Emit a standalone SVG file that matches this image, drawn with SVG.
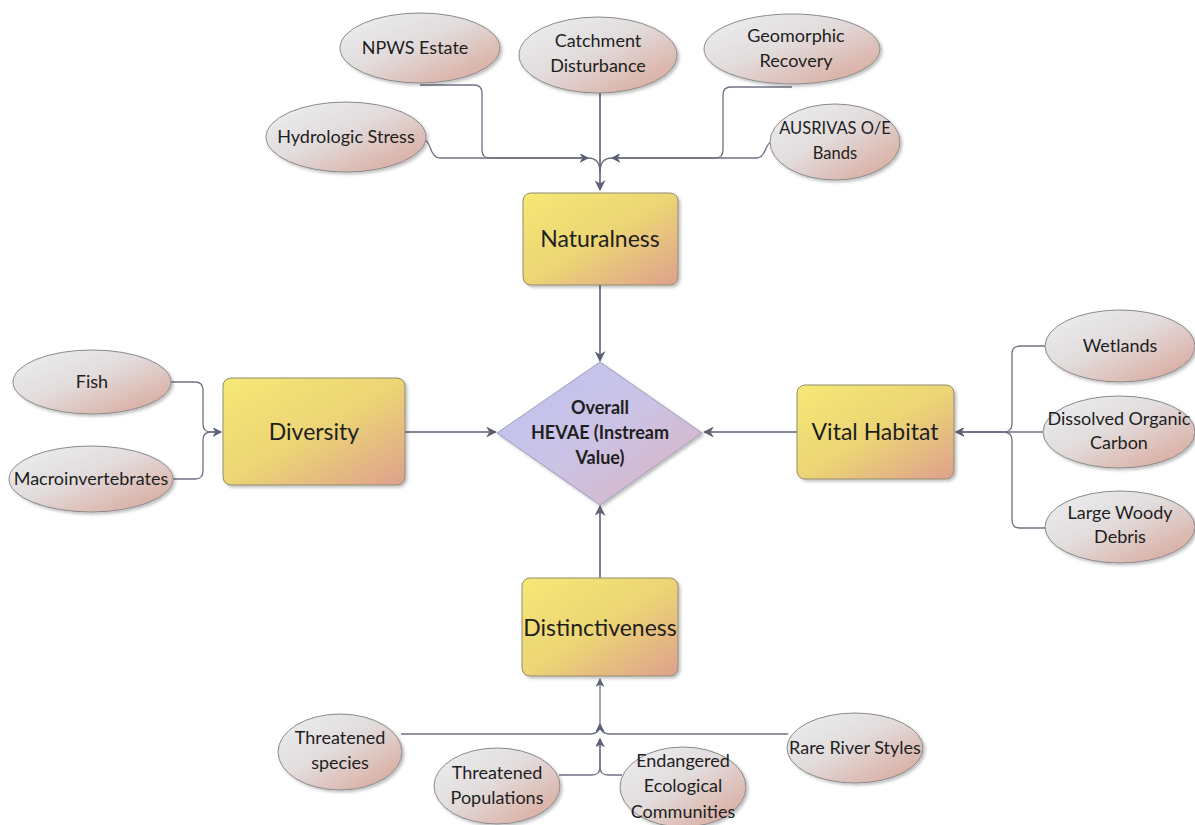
<svg xmlns="http://www.w3.org/2000/svg" width="1195" height="825" viewBox="0 0 1195 825">
  <defs>
    <linearGradient id="ellGrad" x1="0" y1="0" x2="1" y2="1">
      <stop offset="0" stop-color="#eceff2"/>
      <stop offset="0.45" stop-color="#e2dcdc"/>
      <stop offset="1" stop-color="#d8a294"/>
    </linearGradient>
    <linearGradient id="boxGrad" x1="0" y1="0" x2="1" y2="1">
      <stop offset="0" stop-color="#f6e876"/>
      <stop offset="0.5" stop-color="#ecd574"/>
      <stop offset="1" stop-color="#dea08e"/>
    </linearGradient>
    <linearGradient id="diaGrad" x1="0" y1="0" x2="1" y2="1">
      <stop offset="0" stop-color="#bfc3f2"/>
      <stop offset="0.5" stop-color="#cbc3e6"/>
      <stop offset="1" stop-color="#dcb2bd"/>
    </linearGradient>
    <filter id="shadow" x="-10%" y="-10%" width="125%" height="130%">
      <feDropShadow dx="2" dy="2" stdDeviation="1.5" flood-color="#000" flood-opacity="0.25"/>
    </filter>
    <marker id="arrow" viewBox="0 0 10 10" refX="9" refY="5" markerWidth="9" markerHeight="9" markerUnits="userSpaceOnUse" orient="auto">
      <path d="M0,0 L10,5 L0,10 L3,5 Z" fill="#5c6175"/>
    </marker>
    <marker id="arrowL" viewBox="0 0 10 10" refX="9" refY="5" markerWidth="11" markerHeight="11" markerUnits="userSpaceOnUse" orient="auto">
      <path d="M0,0 L10,5 L0,10 L3,5 Z" fill="#5c6175"/>
    </marker>
  </defs>
  <style>
    .ell { fill: url(#ellGrad); stroke: #8a8a8a; stroke-width: 1; filter: url(#shadow); }
    .box { fill: url(#boxGrad); stroke: #8f8d6e; stroke-width: 1; filter: url(#shadow); }
    .dia { fill: url(#diaGrad); stroke: #9c9cbc; stroke-width: 1; filter: url(#shadow); }
    .t { font-family: Lato, "Liberation Sans", sans-serif; font-size: 18px; fill: #1e1e1e; text-anchor: middle; }
    .ts { font-size: 16.5px; }
    .tb { font-family: Lato, "Liberation Sans", sans-serif; font-size: 23px; fill: #1e1e1e; text-anchor: middle; }
    .td { font-family: Lato, "Liberation Sans", sans-serif; font-size: 18px; font-weight: bold; fill: #1e1e1e; text-anchor: middle; }
    .c { fill: none; stroke: #6e7284; stroke-width: 1.3; }
    .cm { fill: none; stroke: #5c6175; stroke-width: 1.6; }
  </style>

  <g id="connectors">
    <path class="c" d="M425,140 C431,142 430,158 440,158 L588,158" marker-end="url(#arrow)"/>
    <path class="c" d="M420,85 L474,85 Q482,85 482,93 L482,150 Q482,158 490,158 L588,158" marker-end="url(#arrow)"/>
    <path class="c" d="M792,87 L731,87 Q723,87 723,95 L723,150 Q723,158 715,158 L612,158" marker-end="url(#arrow)"/>
    <path class="c" d="M771,142 C765,144 766,158 756,158 L612,158" marker-end="url(#arrow)"/>
    <path class="c" d="M588,158 Q600,158 600,172"/>
    <path class="c" d="M612,158 Q600,158 600,172"/>
    <path class="cm" d="M600,93 L600,190" marker-end="url(#arrowL)"/>
    <path class="cm" d="M600,285 L600,361" marker-end="url(#arrowL)"/>
    <path class="c" d="M171,382 L195,382 Q203,382 203,390 L203,424 Q203,432 211,432 L221,432" marker-end="url(#arrow)"/>
    <path class="c" d="M173,479 L195,479 Q203,479 203,471 L203,440 Q203,432 211,432 L221,432" marker-end="url(#arrow)"/>
    <path class="cm" d="M405,432 L496,432" marker-end="url(#arrowL)"/>
    <path class="c" d="M1045,346 L1020,346 Q1012,346 1012,354 L1012,424 Q1012,432 1003,432 L956,432" marker-end="url(#arrow)"/>
    <path class="c" d="M1045,528 L1020,528 Q1012,528 1012,520 L1012,440 Q1012,432 1003,432 L956,432" marker-end="url(#arrow)"/>
    <path class="c" d="M1044,432 L956,432" marker-end="url(#arrow)"/>
    <path class="cm" d="M797,432 L704,432" marker-end="url(#arrowL)"/>
    <path class="cm" d="M600,578 L600,506" marker-end="url(#arrowL)"/>
    <path class="c" d="M401,734 L590,734 Q600,734 600,724" marker-end="url(#arrow)"/>
    <path class="c" d="M788,734 L610,734 Q600,734 600,724" marker-end="url(#arrow)"/>
    <path class="c" d="M559,775 L592,775 Q600,775 600,767 L600,739" marker-end="url(#arrow)"/>
    <path class="c" d="M622,775 L608,775 Q600,775 600,767 L600,739" marker-end="url(#arrow)"/>
    <path class="c" d="M600,724 L600,679" marker-end="url(#arrow)"/>
  </g>

  <g id="npws-estate"><ellipse class="ell" cx="420" cy="48" rx="80" ry="35"/><text class="t" x="415" y="54">NPWS Estate</text></g>
  <g id="catchment-disturbance"><ellipse class="ell" cx="598" cy="55" rx="79" ry="38"/><text class="t" x="598" y="47">Catchment</text><text class="t" x="598" y="72">Disturbance</text></g>
  <g id="geomorphic-recovery"><ellipse class="ell" cx="792" cy="49" rx="88" ry="35"/><text class="t" x="796" y="42">Geomorphic</text><text class="t" x="796" y="67">Recovery</text></g>
  <g id="hydrologic-stress"><ellipse class="ell" cx="346" cy="137" rx="80" ry="35"/><text class="t" x="346" y="143">Hydrologic Stress</text></g>
  <g id="ausrivas"><ellipse class="ell" cx="835" cy="142" rx="65" ry="38"/><text class="t ts" x="835" y="134">AUSRIVAS O/E</text><text class="t ts" x="835" y="159">Bands</text></g>

  <g id="naturalness"><rect class="box" x="523" y="193" width="155" height="92" rx="8"/><text class="tb" x="600" y="247">Naturalness</text></g>

  <g id="overall"><polygon class="dia" points="600,362 702,433 600,505 497,433"/><text class="td" x="600" y="414">Overall</text><text class="td" x="600" y="439">HEVAE (Instream</text><text class="td" x="600" y="464">Value)</text></g>

  <g id="diversity"><rect class="box" x="223" y="378" width="182" height="107" rx="8"/><text class="tb" x="314" y="440">Diversity</text></g>
  <g id="fish"><ellipse class="ell" cx="92" cy="382" rx="79" ry="32"/><text class="t" x="92" y="388">Fish</text></g>
  <g id="macroinvertebrates"><ellipse class="ell" cx="91" cy="479" rx="82" ry="33"/><text class="t" x="91" y="485">Macroinvertebrates</text></g>

  <g id="vital-habitat"><rect class="box" x="797" y="385" width="157" height="94" rx="8"/><text class="tb" x="875" y="440">Vital Habitat</text></g>
  <g id="wetlands"><ellipse class="ell" cx="1120" cy="346" rx="75" ry="36"/><text class="t" x="1120" y="352">Wetlands</text></g>
  <g id="dissolved-organic-carbon"><ellipse class="ell" cx="1119" cy="432" rx="76" ry="36"/><text class="t" x="1119" y="425">Dissolved Organic</text><text class="t" x="1119" y="449">Carbon</text></g>
  <g id="large-woody-debris"><ellipse class="ell" cx="1120" cy="527" rx="75" ry="36"/><text class="t" x="1120" y="519">Large Woody</text><text class="t" x="1120" y="543">Debris</text></g>

  <g id="distinctiveness"><rect class="box" x="522" y="578" width="156" height="98" rx="8"/><text class="tb" x="600" y="636">Distinctiveness</text></g>
  <g id="threatened-species"><ellipse class="ell" cx="340" cy="752" rx="62" ry="38"/><text class="t" x="340" y="744">Threatened</text><text class="t" x="340" y="769">species</text></g>
  <g id="threatened-populations"><ellipse class="ell" cx="497" cy="786" rx="63" ry="38"/><text class="t" x="497" y="779">Threatened</text><text class="t" x="497" y="804">Populations</text></g>
  <g id="endangered-ecological-communities"><ellipse class="ell" cx="683" cy="787" rx="63" ry="40"/><text class="t" x="683" y="767">Endangered</text><text class="t" x="683" y="792">Ecological</text><text class="t" x="683" y="818">Communities</text></g>
  <g id="rare-river-styles"><ellipse class="ell" cx="855" cy="748" rx="68" ry="35"/><text class="t" x="855" y="754">Rare River Styles</text></g>
</svg>
